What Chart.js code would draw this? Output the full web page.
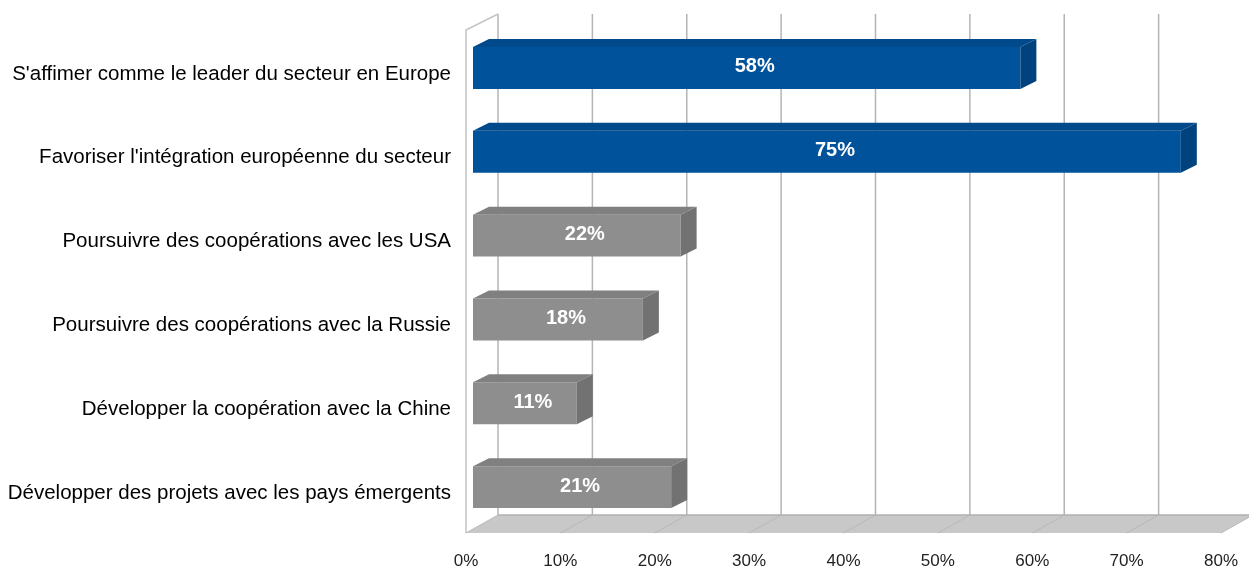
<!DOCTYPE html>
<html>
<head>
<meta charset="utf-8">
<script src="https://cdn.jsdelivr.net/npm/chart.js@4/dist/chart.umd.min.js"></script>
<style>
  body { margin: 0; background: #fff; }
</style>
</head>
<body>
<canvas id="chart" width="1249" height="568"></canvas>
<script>
// Données du graphique
const categories = [
  "S'affimer comme le leader du secteur en Europe",
  "Favoriser l'intégration européenne du secteur",
  "Poursuivre des coopérations avec les USA",
  "Poursuivre des coopérations avec la Russie",
  "Développer la coopération avec la Chine",
  "Développer des projets avec les pays émergents"
];
const values = [58, 75, 22, 18, 11, 21];
const highlighted = [true, true, false, false, false, false];
const xTickLabels = ['0%', '10%', '20%', '30%', '40%', '50%', '60%', '70%', '80%'];

const FONT = "'Liberation Sans', Arial, sans-serif";

// couleurs : face avant / dessus / côté
const BLUE = { front: '#00529b', top: '#004a8c', side: '#00427e' };
const GREY = { front: '#8e8e8e', top: '#808080', side: '#727272' };

// décalages de profondeur (plan avant du sol, plan du fond, épaisseur des barres)
const FRONT = { dx: -7, dy: 4 };
const BACK = { dx: 25, dy: -14 };
const BAR = { dx: 16, dy: -8 };

/**
 * Dessine le "faux 3D" : paroi gauche, grille du fond, sol
 */
const wallsAndFloor = {
  id: 'wallsAndFloor',
  beforeDatasetsDraw(chart) {
    const { ctx, chartArea: a, scales: { x } } = chart;
    const x0 = x.getPixelForValue(x.min);
    const x1 = x.getPixelForValue(x.max);

    ctx.save();
    ctx.lineWidth = 1.5;

    // grille au fond
    ctx.strokeStyle = '#b4b4b4';
    x.ticks.forEach(t => {
      const px = x.getPixelForValue(t.value) + BACK.dx;
      ctx.beginPath();
      ctx.moveTo(px, a.top + BACK.dy + 2);
      ctx.lineTo(px, a.bottom + BACK.dy);
      ctx.stroke();
    });

    // paroi gauche
    ctx.strokeStyle = '#c4c4c4';
    ctx.beginPath();
    ctx.moveTo(x0 + FRONT.dx, a.bottom + FRONT.dy);
    ctx.lineTo(x0 + FRONT.dx, a.top + FRONT.dy);
    ctx.lineTo(x0 + BACK.dx, a.top + BACK.dy + 2);
    ctx.stroke();

    // sol
    ctx.fillStyle = '#c8c8c8';
    ctx.beginPath();
    ctx.moveTo(x0 + FRONT.dx, a.bottom + FRONT.dy);
    ctx.lineTo(x1 + FRONT.dx, a.bottom + FRONT.dy);
    ctx.lineTo(x1 + BACK.dx, a.bottom + BACK.dy);
    ctx.lineTo(x0 + BACK.dx, a.bottom + BACK.dy);
    ctx.closePath();
    ctx.fill();

    ctx.strokeStyle = '#b8b8b8';
    ctx.lineWidth = 1;
    x.ticks.forEach(t => {
      const px = x.getPixelForValue(t.value);
      ctx.beginPath();
      ctx.moveTo(px + FRONT.dx, a.bottom + FRONT.dy);
      ctx.lineTo(px + BACK.dx, a.bottom + BACK.dy);
      ctx.stroke();
    });
    ctx.strokeStyle = '#b0b0b0';
    ctx.lineWidth = 1.5;
    ctx.beginPath();
    ctx.moveTo(x0 + BACK.dx, a.bottom + BACK.dy);
    ctx.lineTo(x1 + BACK.dx, a.bottom + BACK.dy);
    ctx.stroke();

    ctx.restore();
  }
};

/**
 * Dessus et côté des barres + étiquettes de valeur
 */
const barFaces = {
  id: 'barFaces',
  afterDatasetsDraw(chart) {
    const { ctx } = chart;
    const meta = chart.getDatasetMeta(0);

    ctx.save();
    meta.data.forEach((bar, i) => {
      const { x: right, y, base, height } = bar.getProps(['x', 'y', 'base', 'height'], true);
      const top = y - height / 2;
      const bottom = y + height / 2;
      const col = highlighted[i] ? BLUE : GREY;

      ctx.fillStyle = col.top;
      ctx.beginPath();
      ctx.moveTo(base, top);
      ctx.lineTo(right, top);
      ctx.lineTo(right + BAR.dx, top + BAR.dy);
      ctx.lineTo(base + BAR.dx, top + BAR.dy);
      ctx.closePath();
      ctx.fill();

      ctx.fillStyle = col.side;
      ctx.beginPath();
      ctx.moveTo(right, top);
      ctx.lineTo(right + BAR.dx, top + BAR.dy);
      ctx.lineTo(right + BAR.dx, bottom + BAR.dy);
      ctx.lineTo(right, bottom);
      ctx.closePath();
      ctx.fill();

      ctx.fillStyle = '#ffffff';
      ctx.font = 'bold 20px ' + FONT;
      ctx.textAlign = 'center';
      ctx.textBaseline = 'middle';
      ctx.fillText(values[i] + '%', (base + right + BAR.dx) / 2, y - 1);
    });
    ctx.restore();
  }
};

const node = document.getElementById('chart');

new Chart(node, {
  type: 'bar',
  data: {
    labels: categories,
    datasets: [{
      data: values,
      backgroundColor: ctx => highlighted[ctx.dataIndex] ? BLUE.front : GREY.front,
      borderWidth: 0,
      barPercentage: 0.5,
      categoryPercentage: 1
    }]
  },
  options: {
    indexAxis: 'y',
    responsive: false,
    animation: false,
    layout: { padding: { top: 26, right: 21, left: 0, bottom: 0 } },
    plugins: {
      legend: { display: false },
      tooltip: { enabled: false }
    },
    scales: {
      x: {
        min: 0,
        max: 80,
        ticks: {
          stepSize: 10,
          callback: (v, idx) => xTickLabels[idx],
          labelOffset: FRONT.dx,
          padding: 22,
          color: '#222',
          font: { family: FONT, size: 17 }
        },
        grid: { display: false, drawTicks: false },
        border: { display: false },
        afterFit: s => {
          s.height = 39;
          s.paddingLeft = 0;
          s.paddingRight = 0;
        }
      },
      y: {
        ticks: {
          padding: 22,
          labelOffset: 6,
          color: '#000',
          font: { family: FONT, size: 20.5 }
        },
        grid: { display: false, drawTicks: false },
        border: { display: false },
        afterFit: s => {
          s.width = 473;
          s.paddingTop = 0;
          s.paddingBottom = 0;
        }
      }
    }
  },
  plugins: [wallsAndFloor, barFaces]
});
</script>
</body>
</html>
